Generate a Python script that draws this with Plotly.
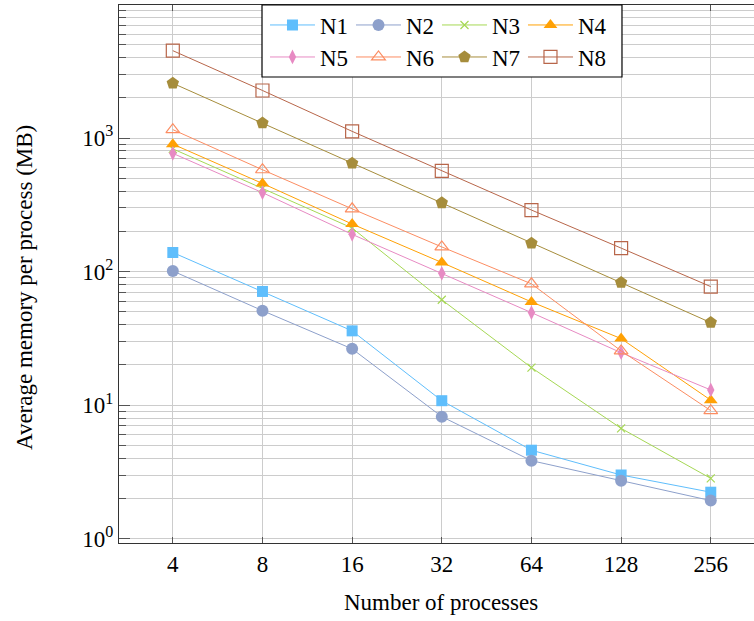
import plotly.graph_objects as go

processes = [4, 8, 16, 32, 64, 128, 256]
tick_labels = ["4", "8", "16", "32", "64", "128", "256"]

N1 = [139, 71, 36, 10.8, 4.6, 3.0, 2.23]
N2 = [101, 51, 26.4, 8.2, 3.84, 2.72, 1.93]
N3 = [830, 421, 212, 61.5, 19.1, 6.7, 2.83]
N4 = [900, 457, 227, 117, 59.3, 31.5, 10.9]
N5 = [768, 390, 190, 97, 49.3, 24.7, 13.0]
N6 = [1156, 579, 295, 153, 81, 25.5, 9.1]
N7 = [2570, 1294, 647, 327, 163, 82.7, 41.5]
N8 = [4510, 2270, 1122, 567, 289, 150, 77.2]

y_tickvals = [1, 10, 100, 1000]
y_ticktext = ["10<sup>0</sup>", "10<sup>1</sup>", "10<sup>2</sup>", "10<sup>3</sup>"]

series = [
    ("N1", N1, "#5fbefc", "square", 11, "legend"),
    ("N2", N2, "#8da0cb", "circle", 12, "legend"),
    ("N3", N3, "#a6d854", "x-thin-open", 8, "legend"),
    ("N4", N4, "#ffa105", "triangle-up", 12, "legend"),
    ("N5", N5, "#e78ac3", "diamond-tall", 10.5, "legend2"),
    ("N6", N6, "#fc8d62", "triangle-up-open", 12, "legend2"),
    ("N7", N7, "#a68d3c", "pentagon", 13, "legend2"),
    ("N8", N8, "#b8664a", "square-open", 13, "legend2"),
]

FONT = "Liberation Serif"
FS = 23

fig = go.Figure()
for name, vals, color, sym, size, lg in series:
    open_sym = sym.endswith("open")
    fig.add_trace(go.Scatter(
        x=processes, y=vals, name=name, mode="lines+markers",
        line=dict(color=color, width=1),
        marker=dict(symbol=sym, size=size, color=color,
                    line=dict(color=color, width=1.2 if open_sym else 0)),
        legend=lg,
    ))

grid = "#cccccc"
minor_vals = [m * 10 ** e for e in range(0, 4) for m in range(2, 10)]

fig.update_layout(
    width=754, height=621,
    margin=dict(l=119, r=0, t=5, b=78),
    paper_bgcolor="white", plot_bgcolor="white",
    font=dict(family=FONT, size=FS, color="black"),
    showlegend=True,
    xaxis=dict(
        type="log", range=[0.4214, 2.5534],
        tickmode="array", tickvals=processes, ticktext=tick_labels,
        showgrid=True, gridcolor=grid, gridwidth=1,
        ticks="inside", ticklen=6, tickcolor="#555555",
        showline=True, linecolor="#333333", linewidth=1.3, mirror="allticks",
        zeroline=False, tickfont=dict(family=FONT, size=FS),
    ),
    yaxis=dict(
        type="log", range=[-0.032, 3.996],
        tickmode="array", tickvals=y_tickvals, ticktext=y_ticktext,
        showgrid=True, gridcolor=grid, gridwidth=1,
        ticks="inside", ticklen=11, tickcolor="#555555",
        showline=True, linecolor="#333333", linewidth=1.3,
        zeroline=False, tickfont=dict(family=FONT, size=FS),
        minor=dict(tickmode="array", tickvals=minor_vals, ticks="inside",
                   ticklen=7, tickcolor="#555555", showgrid=True,
                   gridcolor=grid, gridwidth=1),
    ),
    legend=dict(
        orientation="h", x=0.2299, xanchor="left", y=0.9628, yanchor="middle",
        bgcolor="rgba(0,0,0,0)", borderwidth=0, itemwidth=45,
        entrywidth=26, entrywidthmode="pixels",
        font=dict(family=FONT, size=FS), tracegroupgap=0,
    ),
    legend2=dict(
        orientation="h", x=0.2299, xanchor="left", y=0.9033, yanchor="middle",
        bgcolor="rgba(0,0,0,0)", borderwidth=0, itemwidth=45,
        entrywidth=26, entrywidthmode="pixels",
        font=dict(family=FONT, size=FS), tracegroupgap=0,
    ),
    shapes=[dict(type="rect", xref="paper", yref="paper",
                 x0=0.2252, x1=0.7921, y0=0.8662, y1=1.0,
                 fillcolor="white", line=dict(color="black", width=1.2),
                 layer="above")],
    annotations=[
        dict(text="Number of processes", xref="paper", yref="paper",
             x=0.507, y=-0.1115, xanchor="center", yanchor="middle",
             showarrow=False, font=dict(family=FONT, size=FS)),
        dict(text="Average memory per process (MB)", xref="paper", yref="paper",
             x=-0.148, y=0.474, xanchor="center", yanchor="middle",
             textangle=-90, showarrow=False, font=dict(family=FONT, size=FS)),
    ],
)

fig.write_html("out.html", config={"displayModeBar": False},
               post_script="document.body.style.margin='0';document.body.style.overflow='hidden';")
